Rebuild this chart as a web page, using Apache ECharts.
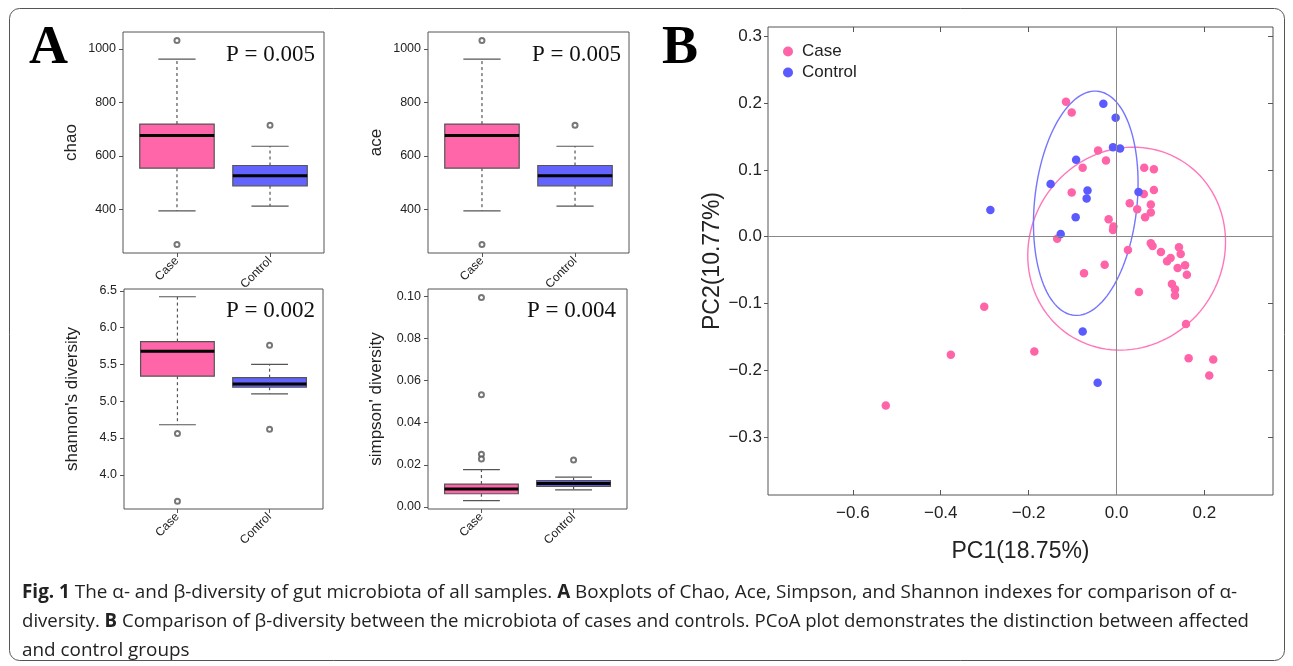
<!DOCTYPE html>
<html>
<head>
<meta charset="utf-8">
<script src="https://cdn.jsdelivr.net/npm/echarts@6/dist/echarts.min.js"></script>
<style>
html, body { margin: 0; padding: 0; background: #fff; }
#main { width: 1293px; height: 666px; }
</style>
</head>
<body>
<div id="main"></div>
<script>
var groups = ['Case', 'Control'];

// box stats per group: [lower whisker, Q1, median, Q3, upper whisker]
var chaoStats = [[394, 554, 676, 719, 962], [412, 488, 526, 564, 636]];
var chaoOutliers = [[268, 1032], [715]];
var aceStats = [[394, 554, 676, 719, 962], [412, 488, 526, 564, 636]];
var aceOutliers = [[268, 1032], [715]];
var shannonStats = [[4.68, 5.34, 5.68, 5.81, 6.42], [5.10, 5.19, 5.235, 5.32, 5.50]];
var shannonOutliers = [[4.56, 3.64], [5.76, 4.62]];
var simpsonStats = [[0.003, 0.0063, 0.0085, 0.0109, 0.0177], [0.0081, 0.0098, 0.0112, 0.0125, 0.0142]];
var simpsonOutliers = [[0.0995, 0.0533, 0.0250, 0.0228], [0.0223]];
var pValues = ['P = 0.005', 'P = 0.005', 'P = 0.002', 'P = 0.004'];

// PCoA coordinates
var casePC1 = [-0.115, -0.102, -0.042, -0.024, -0.077, 0.063, 0.085, -0.102, 0.085, 0.062, 0.030, 0.078,
  0.047, 0.078, 0.065, -0.018, -0.007, -0.008, -0.135, 0.078, 0.082, 0.101, 0.142, 0.146, 0.123, 0.115,
  0.156, 0.139, 0.160, 0.026, -0.027, -0.074, 0.126, 0.133, 0.133, 0.051, -0.301, 0.158, -0.187, 0.164,
  0.220, 0.211, -0.377, -0.525];
var casePC2 = [0.202, 0.186, 0.129, 0.114, 0.103, 0.103, 0.101, 0.066, 0.070, 0.064, 0.050, 0.048,
  0.041, 0.036, 0.029, 0.026, 0.015, 0.010, -0.003, -0.010, -0.014, -0.023, -0.016, -0.026, -0.032, -0.037,
  -0.043, -0.047, -0.057, -0.020, -0.042, -0.055, -0.071, -0.079, -0.088, -0.083, -0.105, -0.131, -0.172, -0.182,
  -0.184, -0.208, -0.177, -0.253];
var controlPC1 = [-0.030, -0.002, -0.008, 0.008, -0.092, -0.150, -0.066, -0.068, 0.050, -0.287, -0.093, -0.127, -0.077, -0.043];
var controlPC2 = [0.199, 0.178, 0.134, 0.132, 0.115, 0.079, 0.069, 0.057, 0.067, 0.040, 0.029, 0.004, -0.142, -0.219];

// ellipses: [centre PC1, centre PC2, half width, half height, correlation]
var caseEllipse = [0.023, -0.018, 0.225, 0.152, 0.067];
var controlEllipse = [-0.070, 0.050, 0.119, 0.168, 0.18];

var pc1Ticks = [-0.6, -0.4, -0.2, 0, 0.2];
var pc2Ticks = [-0.3, -0.2, -0.1, 0, 0.1, 0.2, 0.3];

var chart = echarts.init(document.getElementById('main'));
var sans = 'Liberation Sans, Arial, sans-serif';
var serif = 'Liberation Serif, Times New Roman, serif';
var pink = '#ff66aa', blue = '#6363ff';
var frame = '#555';

var panels = [
  { name: 'chao', stats: chaoStats, out: chaoOutliers, min: 236.5, max: 1063.6, ticks: [400, 600, 800, 1000], dec: 0, box: [123, 32, 201, 221], p: [315, 55] },
  { name: 'ace', stats: aceStats, out: aceOutliers, min: 236.5, max: 1063.6, ticks: [400, 600, 800, 1000], dec: 0, box: [428, 32, 201, 221], p: [621, 55] },
  { name: "shannon's diversity", stats: shannonStats, out: shannonOutliers, min: 3.535, max: 6.525, ticks: [4, 4.5, 5, 5.5, 6, 6.5], dec: 1, box: [124, 289, 199, 220], p: [315, 311] },
  { name: "simpson' diversity", stats: simpsonStats, out: simpsonOutliers, min: -0.00095, max: 0.1035, ticks: [0, 0.02, 0.04, 0.06, 0.08, 0.1], dec: 2, box: [428, 289, 199, 220], p: [616, 311] }
];

function renderBox(params, api) {
  var x = api.value(0);
  var lo = api.coord([x, api.value(1)]);
  var q1 = api.coord([x, api.value(2)]);
  var med = api.coord([x, api.value(3)]);
  var q3 = api.coord([x, api.value(4)]);
  var hi = api.coord([x, api.value(5)]);
  var half = api.size([0.4, 0])[0];
  var cap = half / 2;
  var cx = q1[0];
  var dash = { stroke: frame, lineWidth: 1.2, lineDash: [3, 3] };
  var solid = { stroke: frame, lineWidth: 1.2 };
  return {
    type: 'group',
    children: [
      { type: 'line', shape: { x1: cx, y1: q3[1], x2: cx, y2: hi[1] }, style: dash },
      { type: 'line', shape: { x1: cx, y1: q1[1], x2: cx, y2: lo[1] }, style: dash },
      { type: 'line', shape: { x1: cx - cap, y1: hi[1], x2: cx + cap, y2: hi[1] }, style: solid },
      { type: 'line', shape: { x1: cx - cap, y1: lo[1], x2: cx + cap, y2: lo[1] }, style: solid },
      { type: 'rect', shape: { x: cx - half, y: q3[1], width: 2 * half, height: q1[1] - q3[1] },
        style: { fill: params.dataIndex === 0 ? pink : blue, stroke: frame, lineWidth: 1.2 } },
      { type: 'line', shape: { x1: cx - half, y1: med[1], x2: cx + half, y2: med[1] }, style: { stroke: '#000', lineWidth: 3 } }
    ]
  };
}

function ellipseRenderer(color) {
  return function (params, api) {
    var cx = api.value(0), cy = api.value(1), rx = api.value(2), ry = api.value(3), r = api.value(4);
    var pts = [];
    for (var k = 0; k <= 120; k++) {
      var t = k / 120 * 2 * Math.PI;
      pts.push(api.coord([cx + rx * Math.cos(t), cy + ry * (r * Math.cos(t) + Math.sqrt(1 - r * r) * Math.sin(t))]));
    }
    return { type: 'polyline', shape: { points: pts }, style: { stroke: color, fill: 'none', lineWidth: 1.4 } };
  };
}

function signed(v) {
  var s = Math.abs(v).toFixed(1);
  return v < -1e-9 ? '\u2212' + s : s;
}

var grids = [], xAxes = [], yAxes = [], series = [], graphics = [];

panels.forEach(function (p, i) {
  grids.push({ left: p.box[0], top: p.box[1], width: p.box[2], height: p.box[3], show: true,
    borderColor: frame, borderWidth: 1, outerBoundsMode: 'none' });
  xAxes.push({
    type: 'value', gridIndex: i, min: 0.42, max: 2.58,
    splitLine: { show: false }, axisLine: { show: false, onZero: false },
    axisTick: { customValues: [1, 2], length: 4, lineStyle: { color: frame } },
    axisLabel: { customValues: [1, 2], rotate: 45, margin: 6, fontSize: 12, fontFamily: sans, color: '#222',
      formatter: function (v) { return groups[Math.round(v) - 1]; } }
  });
  yAxes.push({
    type: 'value', gridIndex: i, min: p.min, max: p.max,
    name: p.name, nameLocation: 'middle', nameGap: 43, nameMoveOverlap: false,
    nameTextStyle: { fontSize: 17, fontFamily: sans, color: '#222' },
    splitLine: { show: false }, axisLine: { show: false, onZero: false },
    axisTick: { customValues: p.ticks, length: 4, lineStyle: { color: frame } },
    axisLabel: { customValues: p.ticks, margin: 7, fontSize: 12.5, fontFamily: sans, color: '#222',
      formatter: (function (d) { return function (v) { return v.toFixed(d); }; })(p.dec) }
  });
  series.push({
    type: 'custom', xAxisIndex: i, yAxisIndex: i, renderItem: renderBox,
    encode: { x: 0, y: [1, 2, 3, 4, 5] },
    data: p.stats.map(function (s, k) { return [k + 1].concat(s); })
  });
  var outs = [];
  p.out.forEach(function (vals, k) { vals.forEach(function (v) { outs.push([k + 1, v]); }); });
  series.push({
    type: 'scatter', xAxisIndex: i, yAxisIndex: i, symbol: 'emptyCircle', symbolSize: 5,
    itemStyle: { color: frame, borderWidth: 1 }, data: outs
  });
  graphics.push({ type: 'text', x: p.p[0], y: p.p[1],
    style: { text: pValues[i], fontSize: 23, fontFamily: serif, fill: '#111',
      align: 'right', textAlign: 'right', verticalAlign: 'middle', textVerticalAlign: 'middle' } });
});

// panel B
grids.push({ left: 768, top: 27, width: 505, height: 468, show: true, borderColor: frame, borderWidth: 1, outerBoundsMode: 'none' });
xAxes.push({
  type: 'value', gridIndex: 4, min: -0.793, max: 0.356,
  name: 'PC1(18.75%)', nameLocation: 'middle', nameGap: 45, nameMoveOverlap: false,
  nameTextStyle: { fontSize: 23, fontFamily: sans, color: '#222' },
  splitLine: { show: false }, axisLine: { show: false, onZero: false },
  axisTick: { customValues: pc1Ticks, inside: true, length: 5, lineStyle: { color: frame } },
  axisLabel: { customValues: pc1Ticks, margin: 10, fontSize: 17, fontFamily: sans, color: '#222', formatter: signed }
});
xAxes.push({
  type: 'value', gridIndex: 4, position: 'top', min: -0.793, max: 0.356,
  splitLine: { show: false }, axisLine: { show: false, onZero: false },
  axisTick: { customValues: pc1Ticks, inside: true, length: 5, lineStyle: { color: frame } },
  axisLabel: { show: false }
});
yAxes.push({
  type: 'value', gridIndex: 4, min: -0.387, max: 0.314,
  name: 'PC2(10.77%)', nameLocation: 'middle', nameGap: 44, nameMoveOverlap: false,
  nameTextStyle: { fontSize: 23, fontFamily: sans, color: '#222' },
  splitLine: { show: false }, axisLine: { show: false, onZero: false },
  axisTick: { customValues: pc2Ticks, length: 4, lineStyle: { color: frame } },
  axisLabel: { customValues: pc2Ticks, margin: 6, fontSize: 17, fontFamily: sans, color: '#222', formatter: signed }
});
yAxes.push({
  type: 'value', gridIndex: 4, position: 'right', min: -0.387, max: 0.314,
  splitLine: { show: false }, axisLine: { show: false, onZero: false },
  axisTick: { customValues: pc2Ticks, inside: true, length: 5, lineStyle: { color: frame } },
  axisLabel: { show: false }
});

series.push({
  name: 'CaseEllipse', type: 'custom', xAxisIndex: 4, yAxisIndex: 4, renderItem: ellipseRenderer('#ff77bb'),
  encode: { x: 0, y: 1 }, data: [caseEllipse], silent: true
});
series.push({
  name: 'ControlEllipse', type: 'custom', xAxisIndex: 4, yAxisIndex: 4, renderItem: ellipseRenderer('#7575ff'),
  encode: { x: 0, y: 1 }, data: [controlEllipse], silent: true
});
series.push({
  name: 'Case', type: 'scatter', xAxisIndex: 4, yAxisIndex: 4, symbolSize: 8.5,
  itemStyle: { color: '#ff63a8', opacity: 1 },
  data: casePC1.map(function (x, k) { return [x, casePC2[k]]; }),
  markLine: {
    silent: true, symbol: ['none', 'none'], label: { show: false },
    lineStyle: { color: '#888', width: 1, type: 'solid' },
    data: [{ xAxis: 0 }, { yAxis: 0 }]
  }
});
series.push({
  name: 'Control', type: 'scatter', xAxisIndex: 4, yAxisIndex: 4, symbolSize: 8.5,
  itemStyle: { color: '#5a5aff', opacity: 1 },
  data: controlPC1.map(function (x, k) { return [x, controlPC2[k]]; })
});

// panel letters
graphics.push({ type: 'text', x: 29, y: 49, style: { text: 'A', fontSize: 54, fontWeight: 'bold', fontFamily: serif, fill: '#000',
  verticalAlign: 'middle', textVerticalAlign: 'middle' } });
graphics.push({ type: 'text', x: 662, y: 49, style: { text: 'B', fontSize: 54, fontWeight: 'bold', fontFamily: serif, fill: '#000',
  verticalAlign: 'middle', textVerticalAlign: 'middle' } });

// outer frame
graphics.push({ type: 'rect', z: -10, shape: { x: 9.5, y: 8.5, width: 1275, height: 652, r: 10 },
  style: { fill: 'none', stroke: '#555', lineWidth: 1 } });

// caption
var capFont = 'Open Sans';
var capSize = 19;
var captionLines = [
  [['b', 'Fig. 1'], ['n', ' The \u03b1- and \u03b2-diversity of gut microbiota of all samples. '], ['b', 'A'],
    ['n', ' Boxplots of Chao, Ace, Simpson, and Shannon indexes for comparison of \u03b1-']],
  [['n', 'diversity. '], ['b', 'B'], ['n', ' Comparison of \u03b2-diversity between the microbiota of cases and controls. PCoA plot demonstrates the distinction between affected']],
  [['n', 'and control groups']]
];
var capWidths = [1215, 1227, null];
var capY = [593, 622, 651];
var ctx = document.createElement('canvas').getContext('2d');
function measure(parts) {
  var w = 0;
  parts.forEach(function (p) {
    ctx.font = (p[0] === 'b' ? 'bold ' : '') + capSize + 'px "' + capFont + '"';
    w += ctx.measureText(p[1]).width;
  });
  return w;
}
var firstScale = capWidths[0] / measure(captionLines[0]);
captionLines.forEach(function (parts, i) {
  var sx = capWidths[i] ? capWidths[i] / measure(parts) : firstScale;
  graphics.push({
    type: 'text', x: 22, y: capY[i], scaleX: sx, scaleY: 1,
    style: {
      text: parts.map(function (p) { return '{' + p[0] + '|' + p[1] + '}'; }).join(''),
      rich: { b: { fontWeight: 'bold', fontSize: capSize, fontFamily: capFont, fill: '#222' },
              n: { fontSize: capSize, fontFamily: capFont, fill: '#222' } },
      fontSize: capSize, fontFamily: capFont, fill: '#222',
      verticalAlign: 'middle', textVerticalAlign: 'middle'
    }
  });
});

chart.setOption({
  animation: false,
  backgroundColor: '#fff',
  grid: grids,
  xAxis: xAxes,
  yAxis: yAxes,
  legend: {
    data: ['Case', 'Control'], orient: 'vertical', left: 778, top: 38,
    icon: 'circle', itemWidth: 10, itemHeight: 10, itemGap: 4,
    textStyle: { fontSize: 17, fontFamily: sans, color: '#222', padding: [0, 0, 0, 4] }
  },
  graphic: graphics,
  series: series
});
</script>
</body>
</html>
